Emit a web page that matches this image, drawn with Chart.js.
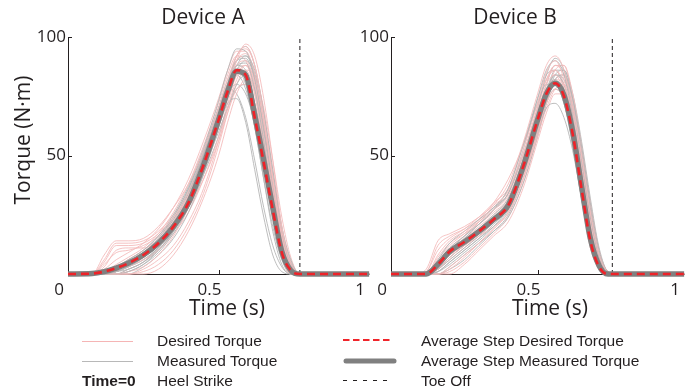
<!DOCTYPE html>
<html>
<head>
<meta charset="utf-8">
<script src="https://cdn.jsdelivr.net/npm/chart.js@4.4.1/dist/chart.umd.min.js"></script>
<style>
  body { margin: 0; width: 691px; height: 392px; overflow: hidden; background: #fff; position: relative; }
  canvas { position: absolute; top: 0; }
  #chartA { left: 0; }
  #chartB { left: 345px; }
  #overlay { position: absolute; left: 0; top: 0; pointer-events: none; }
  #overlay text { fill: #231f20; dominant-baseline: central; }
  .big { font-family: "Open Sans", sans-serif; font-size: 21px; text-anchor: middle; }
  .leg { font-family: "Liberation Sans", Arial, sans-serif; font-size: 15.5px; }
</style>
</head>
<body>
<canvas id="chartA" width="380" height="392"></canvas>
<canvas id="chartB" width="350" height="392"></canvas>

<svg id="overlay" width="691" height="392">
  <text class="big" x="203" y="16">Device A</text>
  <text class="big" x="515" y="16">Device B</text>
  <text class="big" transform="translate(22,140) rotate(-90)">Torque (N·m)</text>
  <text class="big" x="227" y="307">Time (s)</text>
  <text class="big" x="550" y="307">Time (s)</text>

  <line x1="82" x2="133" y1="341.5" y2="341.5" stroke="#f5b5b5" stroke-width="1"/>
  <line x1="82" x2="133" y1="361.5" y2="361.5" stroke="#b8b8b8" stroke-width="1"/>
  <text class="leg" x="82" y="380" font-weight="bold">Time=0</text>
  <text class="leg" x="157" y="340">Desired Torque</text>
  <text class="leg" x="157" y="360">Measured Torque</text>
  <text class="leg" x="157" y="380">Heel Strike</text>

  <line x1="343" x2="393" y1="340" y2="340" stroke="#f0242a" stroke-width="2" stroke-dasharray="6.5 3.5"/>
  <line x1="346" x2="394" y1="361" y2="361" stroke="#808080" stroke-width="5" stroke-linecap="round"/>
  <line x1="343" x2="393" y1="380.5" y2="380.5" stroke="#231f20" stroke-width="1" stroke-dasharray="4 6"/>
  <text class="leg" x="421" y="340">Average Step Desired Torque</text>
  <text class="leg" x="421" y="360">Average Step Measured Torque</text>
  <text class="leg" x="421" y="380">Toe Off</text>
</svg>

<script>
// time grid (s) shared by all steps
const tGrid = [0, 0.08, 0.12, 0.16, 0.2, 0.25, 0.3, 0.35, 0.4, 0.45, 0.5, 0.53, 0.56, 0.59, 0.62, 0.65, 0.68, 0.71, 0.74, 0.77, 1];
const xTicks = [0, 0.5, 1];
const yTicks = [50, 100];

// Device A
const toeOffA = 0.77;
const avgDesiredA = [0, 0.2, 1, 2.5, 4.5, 8, 13, 20, 30, 46, 65, 77, 86, 84, 66, 47, 27, 9, 1.5, 0, 0];
const avgMeasuredA = [0, 0.2, 1, 2.5, 4.5, 8, 13, 20, 30, 46, 65, 77, 85.5, 84, 67, 48, 28, 9.5, 1.5, 0, 0];
const desiredA = [
  [0, 0, 8, 14, 14, 15, 20, 28, 38, 52, 70, 82, 92, 96, 88, 66, 40, 15, 2, 0, 0],
  [0, 0, 5, 12, 12, 13, 17, 24, 33, 46, 62, 74, 84, 86, 76, 55, 32, 10, 1, 0, 0],
  [0, 0, 0, 2, 5, 9, 14, 22, 33, 48, 66, 78, 88, 90, 80, 58, 34, 12, 1, 0, 0],
  [0, 0, 0, 0, 0, 2, 6, 12, 22, 36, 56, 70, 82, 88, 82, 64, 40, 16, 3, 0, 0],
  [0, 0, 0, 0, 1, 3, 8, 16, 28, 44, 64, 77, 90, 97, 92, 74, 48, 20, 4, 0, 0],
  [0, 0, 3, 10, 11, 11, 14, 20, 28, 40, 56, 68, 78, 80, 70, 50, 28, 8, 0, 0, 0],
  [0, 0, 1, 4, 7, 11, 17, 26, 38, 54, 72, 84, 92, 90, 76, 52, 28, 8, 0, 0, 0],
  [0, 0, 0, 0, 0, 0, 2, 8, 18, 32, 50, 64, 76, 82, 78, 62, 40, 18, 5, 0, 0],
  [0, 0, 2, 6, 9, 13, 19, 28, 40, 56, 74, 86, 94, 94, 84, 62, 36, 14, 2, 0, 0],
  [0, 0, 0, 1, 3, 6, 10, 17, 26, 40, 58, 72, 84, 88, 80, 60, 36, 14, 2, 0, 0],
  [0, 0, 6, 13, 13, 14, 18, 25, 35, 50, 68, 80, 90, 93, 84, 62, 38, 14, 2, 0, 0],
  [0, 0, 0, 0, 2, 5, 11, 19, 30, 46, 66, 80, 92, 95, 88, 68, 44, 20, 5, 0, 0],
  [0, 0, 4, 9, 10, 12, 16, 23, 32, 46, 64, 76, 86, 88, 78, 56, 32, 11, 1, 0, 0],
  [0, 0, 0, 3, 6, 10, 15, 23, 34, 50, 68, 79, 86, 84, 72, 50, 28, 9, 1, 0, 0],
  [0, 0, 0, 0, 0, 1, 4, 10, 20, 34, 54, 68, 80, 86, 84, 70, 48, 24, 7, 0, 0]
];
const measuredA = [
  [0, 0, 0, 1, 3, 7, 12, 20, 31, 46, 66, 79, 88, 89, 78, 56, 30, 9, 1, 0, 0],
  [0, 0, 0, 2, 5, 9, 15, 24, 36, 52, 70, 80, 86, 80, 62, 40, 18, 4, 0, 0, 0],
  [0, 0, 1, 3, 6, 10, 16, 25, 37, 53, 73, 86, 95, 94, 82, 60, 34, 12, 2, 0, 0],
  [0, 0, 0, 0, 1, 4, 9, 17, 28, 44, 62, 72, 74, 64, 44, 24, 8, 1, 0, 0, 0],
  [0, 0, 0, 1, 2, 5, 10, 18, 30, 46, 66, 78, 88, 92, 86, 68, 44, 20, 6, 0, 0],
  [0, 0, 0, 2, 4, 8, 13, 21, 33, 50, 70, 82, 90, 91, 82, 62, 38, 16, 4, 0, 0],
  [0, 0, 0, 0, 2, 5, 11, 19, 30, 44, 60, 70, 78, 80, 72, 54, 32, 12, 2, 0, 0],
  [0, 0, 1, 3, 5, 9, 14, 22, 34, 50, 68, 80, 88, 86, 72, 50, 26, 8, 1, 0, 0],
  [0, 0, 0, 0, 0, 3, 8, 15, 26, 42, 62, 76, 86, 90, 84, 64, 40, 18, 5, 0, 0],
  [0, 0, 0, 1, 3, 7, 12, 20, 32, 48, 66, 76, 80, 76, 64, 46, 26, 10, 2, 0, 0],
  [0, 0, 0, 1, 3, 6, 11, 19, 30, 47, 67, 80, 90, 92, 84, 64, 40, 17, 4, 0, 0],
  [0, 0, 0, 2, 4, 8, 14, 23, 35, 51, 70, 80, 84, 78, 62, 40, 20, 6, 0, 0, 0],
  [0, 0, 0, 0, 1, 4, 10, 18, 30, 46, 66, 80, 92, 96, 88, 68, 42, 18, 4, 0, 0],
  [0, 0, 0, 1, 3, 6, 11, 18, 28, 42, 58, 70, 80, 84, 78, 60, 38, 16, 3, 0, 0],
  [0, 0, 1, 3, 6, 10, 16, 24, 36, 52, 70, 78, 76, 66, 48, 28, 12, 3, 0, 0, 0]
];

// Device B
const toeOffB = 0.755;
const avgDesiredB = [0, 0, 0, 4, 9.5, 13.5, 18, 23, 29, 45, 65, 76, 80.5, 75, 59, 36, 14, 3, 0, 0, 0];
const avgMeasuredB = [0, 0, 0, 4, 9.5, 13.5, 18, 23, 29, 45, 65, 76, 80.5, 75.5, 60, 37, 15, 3.5, 0, 0, 0];
const desiredB = [
  [0, 0, 2, 14, 17, 20, 24, 29, 35, 52, 72, 85, 90, 82, 64, 40, 16, 3, 0, 0, 0],
  [0, 0, 0, 8, 14, 18, 22, 27, 33, 48, 68, 80, 84, 76, 58, 34, 12, 2, 0, 0, 0],
  [0, 0, 0, 2, 7, 12, 17, 22, 28, 42, 60, 72, 78, 74, 60, 40, 18, 5, 0, 0, 0],
  [0, 0, 0, 0, 3, 8, 13, 19, 26, 40, 58, 70, 78, 80, 70, 50, 26, 8, 1, 0, 0],
  [0, 0, 0, 5, 11, 16, 22, 29, 38, 55, 76, 88, 92, 86, 68, 44, 20, 5, 0, 0, 0],
  [0, 0, 0, 0, 0, 4, 10, 16, 22, 36, 56, 68, 76, 76, 64, 44, 22, 6, 0, 0, 0],
  [0, 0, 1, 10, 15, 19, 24, 30, 36, 50, 70, 82, 88, 84, 70, 48, 24, 7, 1, 0, 0],
  [0, 0, 0, 3, 8, 12, 16, 20, 26, 40, 60, 74, 82, 80, 66, 44, 20, 5, 0, 0, 0],
  [0, 0, 0, 6, 12, 17, 23, 30, 40, 54, 72, 82, 86, 78, 58, 34, 12, 2, 0, 0, 0],
  [0, 0, 0, 0, 2, 7, 13, 19, 26, 40, 62, 76, 86, 88, 76, 54, 30, 10, 1, 0, 0],
  [0, 0, 1, 12, 16, 19, 23, 28, 34, 50, 70, 82, 86, 80, 62, 38, 14, 2, 0, 0, 0],
  [0, 0, 0, 2, 6, 11, 16, 22, 30, 46, 66, 80, 88, 88, 74, 52, 28, 9, 1, 0, 0],
  [0, 0, 0, 4, 10, 15, 20, 25, 31, 44, 62, 74, 80, 78, 64, 42, 20, 5, 0, 0, 0],
  [0, 0, 0, 0, 1, 5, 11, 17, 24, 38, 58, 72, 82, 84, 72, 50, 26, 8, 1, 0, 0],
  [0, 0, 0, 7, 13, 17, 21, 26, 32, 46, 66, 78, 82, 74, 56, 32, 11, 2, 0, 0, 0]
];
const measuredB = [
  [0, 0, 0, 3, 8, 13, 18, 24, 31, 46, 66, 78, 82, 76, 60, 36, 14, 3, 0, 0, 0],
  [0, 0, 0, 5, 11, 16, 21, 27, 34, 52, 74, 86, 90, 84, 66, 42, 18, 4, 0, 0, 0],
  [0, 0, 0, 1, 5, 10, 15, 20, 27, 42, 60, 70, 72, 66, 52, 32, 12, 2, 0, 0, 0],
  [0, 0, 0, 2, 7, 12, 17, 23, 30, 44, 64, 76, 84, 82, 70, 48, 24, 7, 1, 0, 0],
  [0, 0, 0, 4, 10, 16, 22, 28, 36, 54, 72, 80, 80, 72, 56, 34, 14, 3, 0, 0, 0],
  [0, 0, 0, 0, 3, 8, 13, 18, 24, 38, 58, 72, 82, 84, 74, 54, 30, 10, 1, 0, 0],
  [0, 0, 0, 6, 13, 18, 23, 28, 34, 50, 70, 84, 91, 86, 68, 42, 18, 4, 0, 0, 0],
  [0, 0, 0, 2, 6, 11, 16, 22, 30, 46, 66, 78, 84, 80, 66, 46, 24, 8, 1, 0, 0],
  [0, 0, 0, 3, 9, 14, 19, 25, 32, 48, 68, 78, 80, 72, 54, 32, 12, 2, 0, 0, 0],
  [0, 0, 0, 1, 4, 9, 14, 20, 28, 42, 62, 76, 86, 86, 74, 52, 28, 8, 1, 0, 0],
  [0, 0, 0, 2, 7, 12, 17, 23, 30, 45, 64, 76, 80, 76, 62, 40, 18, 5, 0, 0, 0],
  [0, 0, 0, 4, 10, 15, 21, 27, 36, 54, 74, 84, 86, 78, 60, 36, 14, 3, 0, 0, 0],
  [0, 0, 0, 0, 2, 6, 12, 18, 25, 40, 60, 74, 84, 86, 76, 56, 32, 11, 1, 0, 0],
  [0, 0, 0, 3, 8, 13, 18, 24, 31, 46, 66, 80, 88, 86, 72, 50, 26, 8, 1, 0, 0],
  [0, 0, 0, 1, 5, 10, 15, 21, 28, 42, 60, 72, 78, 74, 62, 42, 20, 6, 0, 0, 0]
];

Chart.defaults.font.family = "'Open Sans', sans-serif";
Chart.defaults.color = "#231f20";

const pts = vals => vals.map((v, i) => ({ x: tGrid[i], y: v }));

// small inward tick marks like the matlab axes
const inwardTicks = {
  id: "inwardTicks",
  afterDraw(chart) {
    const { ctx, chartArea } = chart;
    const xs = chart.scales.x, ys = chart.scales.y;
    ctx.save();
    ctx.strokeStyle = "#231f20";
    ctx.lineWidth = 1;
    ctx.beginPath();
    yTicks.forEach(v => {
      const y = Math.round(ys.getPixelForValue(v)) + 0.5;
      ctx.moveTo(chartArea.left, y);
      ctx.lineTo(chartArea.left + 4, y);
    });
    const x = Math.round(xs.getPixelForValue(0.5)) + 0.5;
    ctx.moveTo(x, chartArea.bottom);
    ctx.lineTo(x, chartArea.bottom - 4);
    ctx.stroke();
    ctx.restore();
  }
};

function makeChart(id, d) {
  const datasets = [
    { data: pts(d.avgDesired), borderColor: "#ee2228", borderWidth: 2.6, borderDash: [8, 5] },
    { data: pts(d.avgMeasured), borderColor: "#808080", borderWidth: 5.5 },
    {
      data: [{ x: d.toeOff, y: 0 }, { x: d.toeOff, y: 100 }],
      borderColor: "#231f20", borderWidth: 1, borderDash: [4, 3],
      cubicInterpolationMode: "default", tension: 0
    }
  ];
  // interleave desired/measured so neither colour sits fully on top
  d.desired.forEach((vals, i) => {
    datasets.push({ data: pts(vals), borderColor: "#f4bcbc", borderWidth: 0.9 });
    datasets.push({ data: pts(d.measured[i]), borderColor: "#b6b6b6", borderWidth: 0.9 });
  });

  return new Chart(document.getElementById(id), {
    type: "line",
    data: { datasets },
    options: {
      responsive: false,
      animation: false,
      events: [],
      layout: { autoPadding: false, padding: { left: 0, right: d.padRight, top: 37, bottom: 0 } },
      datasets: { line: { clip: false } },
      elements: {
        point: { radius: 0 },
        line: { cubicInterpolationMode: "monotone", borderCapStyle: "butt" }
      },
      plugins: { legend: { display: false }, tooltip: { enabled: false } },
      scales: {
        x: {
          type: "linear", min: 0, max: 1,
          grid: { display: false, drawTicks: false },
          border: { color: "#231f20", width: 1 },
          afterBuildTicks: s => { s.ticks = xTicks.map(v => ({ value: v })); },
          ticks: { font: { size: 17 }, padding: 6, labelOffset: -9, maxRotation: 0, callback: v => String(v) },
          afterFit: s => { s.height = 118; }
        },
        y: {
          min: 0, max: 100,
          grid: { display: false, drawTicks: false },
          border: { color: "#231f20", width: 1 },
          afterBuildTicks: s => { s.ticks = yTicks.map(v => ({ value: v })); },
          ticks: { font: { size: 17 }, padding: 2, callback: v => String(v) },
          afterFit: s => { s.width = d.yWidth; }
        }
      }
    },
    plugins: [inwardTicks]
  });
}

makeChart("chartA", {
  avgDesired: avgDesiredA, avgMeasured: avgMeasuredA, desired: desiredA, measured: measuredA,
  toeOff: toeOffA, yWidth: 68, padRight: 9
});
makeChart("chartB", {
  avgDesired: avgDesiredB, avgMeasured: avgMeasuredB, desired: desiredB, measured: measuredB,
  toeOff: toeOffB, yWidth: 46, padRight: 2
});
</script>
</body>
</html>
